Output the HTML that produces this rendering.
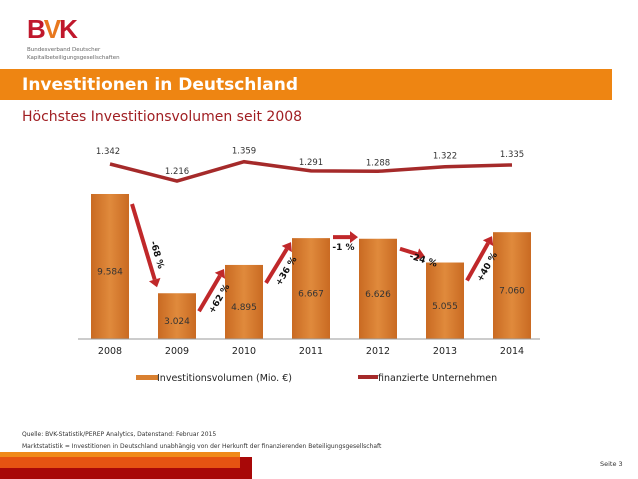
<!DOCTYPE html>
<html><head><meta charset="utf-8"><style>
body{margin:0;width:638px;height:479px;overflow:hidden;background:#fff;font-family:"DejaVu Sans","Liberation Sans",sans-serif;position:relative}
.abs{position:absolute}
svg text{font-family:"DejaVu Sans","Liberation Sans",sans-serif}
</style></head><body>
<div class="abs" style="left:27px;top:14px;font:bold 26px 'Liberation Sans',sans-serif;letter-spacing:-2px;color:#c0182c">B<span style="color:#e8781e">V</span>K</div>
<div class="abs" style="left:27px;top:46px;font-size:5.5px;color:#666;line-height:8px">Bundesverband Deutscher<br>Kapitalbeteiligungsgesellschaften</div>
<div class="abs" style="left:0;top:69px;width:612px;height:31px;background:#ee8512"></div>
<div class="abs" style="left:22px;top:75px;font-size:17px;font-weight:bold;color:#fff">Investitionen in Deutschland</div>
<div class="abs" style="left:22px;top:109px;font-size:14px;color:#a01e22">Höchstes Investitionsvolumen seit 2008</div>
<svg class="abs" style="left:0;top:0" width="638" height="479">
<defs><linearGradient id="g" x1="0" x2="1"><stop offset="0" stop-color="#c96a22"/><stop offset="0.5" stop-color="#e08a3c"/><stop offset="1" stop-color="#c96a22"/></linearGradient></defs>
<g id="bars"></g><g id="arrows"></g><g id="line"></g>
<line x1="78" y1="339" x2="540" y2="339" stroke="#999"/>
<rect x="136" y="375" width="22" height="5" fill="#d98030"/>
<text x="157" y="381" font-size="9.5" fill="#222">Investitionsvolumen (Mio. €)</text>
<line x1="358" y1="377" x2="378" y2="377" stroke="#a52a2a" stroke-width="4"/>
<text x="378" y="381" font-size="9.5" fill="#222">finanzierte Unternehmen</text>
</svg>
<div class="abs" style="left:22px;top:431px;font-size:6px;color:#333">Quelle: BVK-Statistik/PEREP Analytics, Datenstand: Februar 2015</div>
<div class="abs" style="left:22px;top:443px;font-size:6px;color:#333">Marktstatistik = Investitionen in Deutschland unabhängig von der Herkunft der finanzierenden Beteiligungsgesellschaft</div>
<div class="abs" style="left:0;top:457px;width:252px;height:22px;background:#a80808"></div>
<div class="abs" style="left:0;top:457px;width:240px;height:11px;background:#e65312"></div>
<div class="abs" style="left:0;top:452px;width:240px;height:5px;background:#f08a1a"></div>
<div class="abs" style="left:600px;top:460px;font-size:6.5px;color:#333">Seite 3</div>
<script>
const years=["2008","2009","2010","2011","2012","2013","2014"];
const invest=[9584,3024,4895,6667,6626,5055,7060];
const investLabels=["9.584","3.024","4.895","6.667","6.626","5.055","7.060"];
const firms=[1342,1216,1359,1291,1288,1322,1335];
const firmLabels=["1.342","1.216","1.359","1.291","1.288","1.322","1.335"];
const changes=["-68 %","+62 %","+36 %","-1 %","-24 %","+40 %"];
const NS="http://www.w3.org/2000/svg";
const x=i=>110+i*67;
const yb=v=>339-v*0.01513;
const yl=v=>164-(v-1342)*0.135;
function mk(t,a,p){const e=document.createElementNS(NS,t);for(const k in a)e.setAttribute(k,a[k]);p.appendChild(e);return e;}
const B=document.getElementById('bars'),A=document.getElementById('arrows'),L=document.getElementById('line');
invest.forEach((v,i)=>{
 const r=mk('rect',{x:x(i)-19,y:yb(v),width:38,height:339-yb(v),fill:'url(#g)'},B);
 
 
 const t=mk('text',{x:x(i),y:(yb(v)+339)/2+8,'font-size':9,'text-anchor':'middle',fill:'#333'},B);t.textContent=investLabels[i];
 
 
 const yt=mk('text',{x:x(i),y:354,'font-size':9.5,'text-anchor':'middle',fill:'#222'},B);yt.textContent=years[i];
 
 
});
const pl=mk('polyline',{points:firms.map((v,i)=>x(i)+','+yl(v)).join(' '),fill:'none',stroke:'#a52a2a','stroke-width':3.5},L);


firms.forEach((v,i)=>{
 let dy=i==0?10:8; if(i==1)dy=7; if(i==3||i==4)dy=6;
 const t=mk('text',{x:x(i)-(i==0?2:0),y:yl(v)-dy,'font-size':8.5,'text-anchor':'middle',fill:'#333'},L);
 t.textContent=firmLabels[i];
 
 
});
for(let i=0;i<6;i++){
 const x1=x(i)+22,x2=x(i+1)-20;
 const small=Math.abs(invest[i]-invest[i+1])<300;
 let sy=invest[i]>invest[i+1]?yb(invest[i])+10:yb(invest[i])+18;
 let ey=invest[i]>invest[i+1]?yb(invest[i+1])-6:yb(invest[i+1])+4;
 if(small){sy=ey=yb(invest[i])-1;}
 const ang=Math.atan2(ey-sy,x2-x1);
 const hx=x2-8*Math.cos(ang),hy=ey-8*Math.sin(ang);
 const l=mk('line',{x1:x1,y1:sy,x2:hx,y2:hy,stroke:'#c0282a','stroke-width':4},A);
 
 
 const px=-Math.sin(ang),py=Math.cos(ang);
 mk('polygon',{points:`${x2},${ey} ${hx+6*px},${hy+6*py} ${hx-6*px},${hy-6*py}`,fill:'#c0282a'},A);
 const mx=(x1+x2)/2+10,my=(sy+ey)/2+10;
 let deg=ang*180/Math.PI;
 const t=mk('text',{x:mx,y:my,'font-size':9,'font-weight':'bold','text-anchor':'middle',fill:'#111',transform:`rotate(${deg} ${mx} ${my})`},A);
 if(small){t.setAttribute('x',(x1+x2)/2-2);t.setAttribute('y',sy+13);t.setAttribute('transform','');}
 t.textContent=changes[i];
 
 
}
</script>
</body></html>
